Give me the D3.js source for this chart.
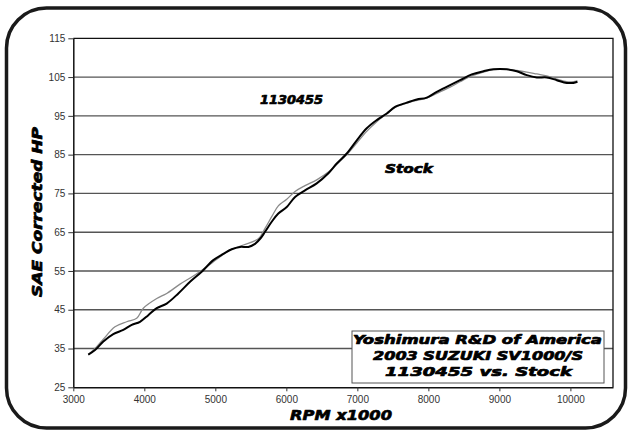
<!DOCTYPE html>
<html><head><meta charset="utf-8">
<script src="https://cdn.jsdelivr.net/npm/d3@7"></script>
<style>body{margin:0;background:#fff}svg{display:block}</style>
</head><body>
<svg id="c" width="628" height="432"></svg>
<script>
const rpmTicks = [3000,4000,5000,6000,7000,8000,9000,10000];
const hpTicks = [25,35,45,55,65,75,85,95,105,115];
const blackRpm = [3211,3306,3423,3563,3704,3823,3939,4056,4175,4315,4479,4644,4808,4972,5113,5231,5348,5465,5559,5640,5700,5794,5887,6006,6123,6263,6428,6592,6710,6851,6992,7132,7273,7414,7531,7696,7837,7977,8118,8306,8446,8611,8775,8915,9104,9245,9386,9527,9668,9808,9949,10042,10099];
const blackHp = [33.4,34.6,36.8,38.7,39.8,41.1,41.9,43.6,45.4,46.6,49.2,52.2,54.8,57.8,59.4,60.6,61.2,61.2,62.0,63.5,65.1,67.7,69.8,71.5,74.1,75.8,77.6,80.2,82.7,85.3,88.7,91.8,93.9,95.6,97.3,98.4,99.2,99.7,101.2,102.9,104.2,105.7,106.5,107.0,107.0,106.5,105.5,104.9,104.9,104.2,103.5,103.5,103.8];
const stockRpm = [3211,3330,3423,3587,3752,3893,3986,4175,4315,4503,4690,4879,5020,5207,5394,5606,5700,5794,5887,6006,6123,6263,6428,6592,6710,6851,6992,7132,7273,7414,7531,7696,7837,7977,8118,8306,8446,8611,8775,8915,9104,9245,9386,9527,9668,9808,9949,10042,10099];
const stockHp = [33.4,35.5,37.4,40.6,41.9,42.8,45.4,47.9,49.2,51.6,53.7,56.1,58.0,60.4,61.7,63.3,66.0,69.0,71.8,73.5,75.5,77.0,78.5,80.5,82.5,85.0,88.0,91.0,93.5,95.5,97.2,98.3,99.0,99.6,100.8,102.4,103.8,105.3,106.3,106.9,107.0,106.7,106.3,105.8,105.3,104.5,103.8,103.8,104.0];
const seriesLabels = ["1130455","Stock"];
const titleLines = ["Yoshimura R&D of America","2003 SUZUKI SV1000/S","1130455 vs. Stock"];

const svg = d3.select("#c");
const FONT = "'DejaVu Sans', sans-serif";
const x = d3.scaleLinear().domain([3000,10600]).range([73.3,613]);
const y = d3.scaleLinear().domain([25,115]).range([387.3,38.3]);

// frame
svg.append("rect").attr("x",6.5).attr("y",8).attr("width",619).attr("height",420)
  .attr("rx",40).attr("ry",40).attr("fill","#fff").attr("stroke","#1a1a1a").attr("stroke-width",3.5);

// gridlines
svg.append("g").selectAll("line").data(hpTicks.filter(d=>d>25 && d<115)).join("line")
  .attr("x1",x(3000)).attr("x2",x(10600)).attr("y1",d=>y(d)).attr("y2",d=>y(d))
  .attr("stroke","#555").attr("stroke-width",1.4);

// plot border top & right
svg.append("path").attr("d",`M${x(3000)},${y(115)}H${x(10600)}V${y(25)}`)
  .attr("fill","none").attr("stroke","#111").attr("stroke-width",1.3);

// axes
const xAxis = svg.append("g").attr("transform",`translate(0,${y(25)})`)
  .call(d3.axisBottom(x).tickValues(rpmTicks).tickFormat(d3.format("d")).tickSize(4).tickSizeOuter(0).tickPadding(5));
const yAxis = svg.append("g").attr("transform",`translate(${x(3000)},0)`)
  .call(d3.axisLeft(y).tickValues(hpTicks).tickFormat(d3.format("d")).tickSize(5).tickSizeOuter(0).tickPadding(3));
[xAxis,yAxis].forEach(a=>{
  a.select(".domain").attr("stroke","#111").attr("stroke-width",1.5);
  a.selectAll(".tick line").attr("stroke","#333");
  a.selectAll("text").attr("font-family","'Liberation Sans', Arial, sans-serif").attr("font-size",10).attr("fill","#333");
});

// lines
const line = d3.line().x(d=>x(d[0])).y(d=>y(d[1])).curve(d3.curveCatmullRom.alpha(0.5));
svg.append("path").datum(stockRpm.map((r,i)=>[r,stockHp[i]])).attr("d",line)
  .attr("fill","none").attr("stroke","#8a8a8a").attr("stroke-width",1.3);
svg.append("path").datum(blackRpm.map((r,i)=>[r,blackHp[i]])).attr("d",line)
  .attr("fill","none").attr("stroke","#000").attr("stroke-width",2);

function btext(t,cx,by,size,len){
  return svg.append("text").text(t).attr("x",cx).attr("y",by).attr("text-anchor","middle")
    .attr("font-family",FONT).attr("font-weight","bold").attr("font-style","italic")
    .attr("font-size",size).attr("textLength",len).attr("lengthAdjust","spacingAndGlyphs")
    .attr("fill","#000").attr("stroke","#000").attr("stroke-width",0.7).attr("stroke-linejoin","round");
}
btext(seriesLabels[0],291.5,103.7,12.5,63);
btext(seriesLabels[1],409,172.7,12.5,48);

// title box
svg.append("rect").attr("x",352).attr("y",331).attr("width",252).attr("height",52)
  .attr("fill","#fff").attr("stroke","#555").attr("stroke-width",1);
btext(titleLines[0],477.5,344,12.5,249);
btext(titleLines[1],478,360,12.5,210);
btext(titleLines[2],478.5,375.5,12.5,187);

// axis titles
btext("RPM x1000",341,420,14.5,102);
svg.append("text").text("SAE Corrected HP")
  .attr("transform","translate(41.7,212) rotate(-90)").attr("text-anchor","middle")
  .attr("font-family",FONT).attr("font-weight","bold").attr("font-style","italic")
  .attr("font-size",13.5).attr("textLength",170).attr("lengthAdjust","spacingAndGlyphs")
  .attr("stroke","#000").attr("stroke-width",0.7).attr("stroke-linejoin","round");
</script>
</body></html>
